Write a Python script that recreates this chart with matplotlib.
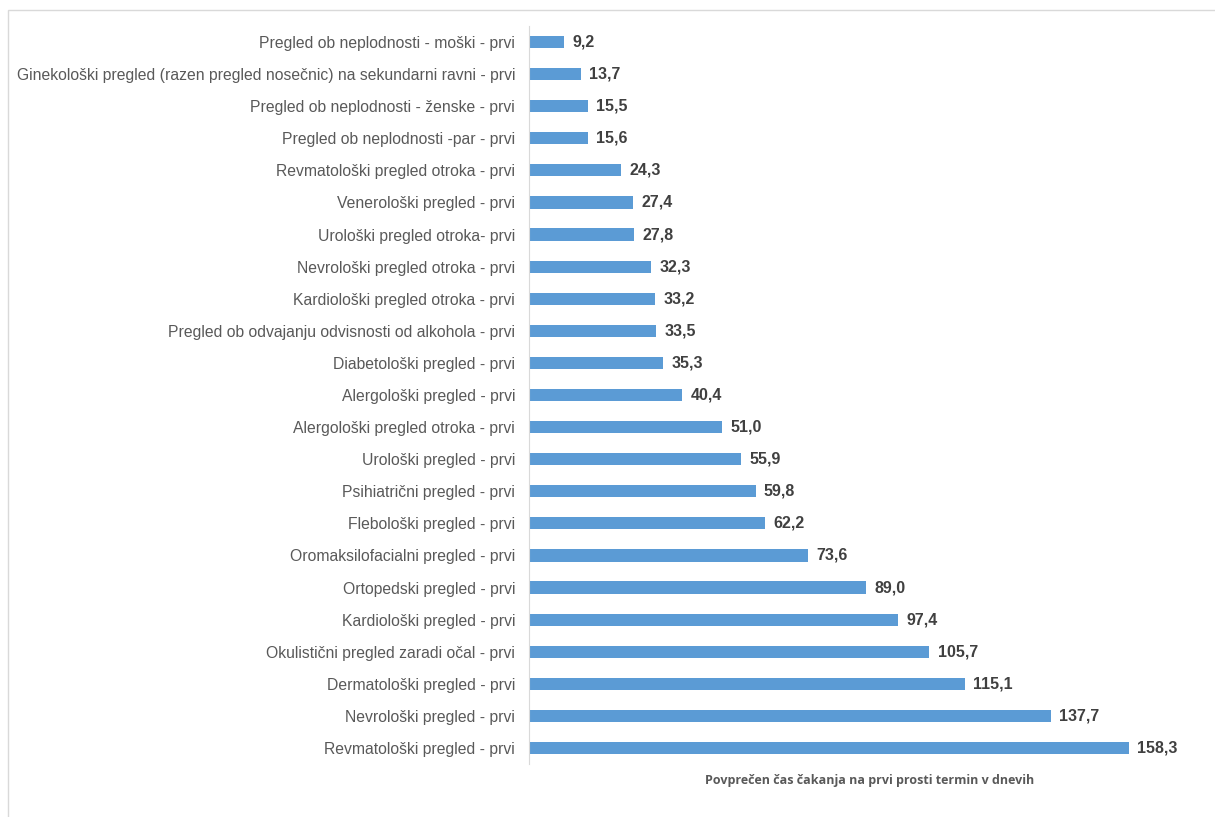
import matplotlib.pyplot as plt
from matplotlib.patches import Rectangle

# --- data (top to bottom) ---
categories = [
    'Pregled ob neplodnosti - moški - prvi',
    'Ginekološki pregled (razen pregled nosečnic) na sekundarni ravni - prvi',
    'Pregled ob neplodnosti - ženske - prvi',
    'Pregled ob neplodnosti -par - prvi',
    'Revmatološki pregled otroka - prvi',
    'Venerološki pregled - prvi',
    'Urološki pregled otroka- prvi',
    'Nevrološki pregled otroka - prvi',
    'Kardiološki pregled otroka - prvi',
    'Pregled ob odvajanju odvisnosti od alkohola - prvi',
    'Diabetološki pregled - prvi',
    'Alergološki pregled - prvi',
    'Alergološki pregled otroka - prvi',
    'Urološki pregled - prvi',
    'Psihiatrični pregled - prvi',
    'Flebološki pregled - prvi',
    'Oromaksilofacialni pregled - prvi',
    'Ortopedski pregled - prvi',
    'Kardiološki pregled - prvi',
    'Okulistični pregled zaradi očal - prvi',
    'Dermatološki pregled - prvi',
    'Nevrološki pregled - prvi',
    'Revmatološki pregled - prvi',
]
values = [9.2, 13.7, 15.5, 15.6, 24.3, 27.4, 27.8, 32.3, 33.2, 33.5, 35.3,
          40.4, 51.0, 55.9, 59.8, 62.2, 73.6, 89.0, 97.4, 105.7, 115.1,
          137.7, 158.3]
x_label = 'Povprečen čas čakanja na prvi prosti termin v dnevih'

BAR_COLOR = '#5B9BD5'
TEXT_COLOR = '#595959'

plt.rcParams['font.family'] = ['Liberation Sans', 'DejaVu Sans']

fig = plt.figure(figsize=(12.15, 8.17), dpi=100)
# light chart border like the office chart frame (bottom edge falls off the image)
fig.patches.append(Rectangle((8 / 1215, -0.05), 1.0, 1.05 - 10 / 817, transform=fig.transFigure,
                             fill=False, edgecolor='#D9D9D9', linewidth=1))

ax = fig.add_axes([529 / 1215, 53 / 817, 682 / 1215, 738 / 817])

positions = list(range(len(categories)))
ax.barh(positions, values, height=0.38, color=BAR_COLOR)

for pos, val in zip(positions, values):
    ax.text(val + 2.2, pos, f'{val:.1f}'.replace('.', ','), va='center', ha='left',
            fontsize=11.5, fontweight='bold', color='#404040')

ax.set_ylim(len(categories) - 0.5, -0.5)
ax.set_xlim(0, 180)
ax.set_yticks(positions)
ax.set_yticklabels(categories, fontsize=11.35, color=TEXT_COLOR)
ax.tick_params(axis='y', length=0, pad=10)
ax.set_xticks([])

for side in ['top', 'right', 'bottom']:
    ax.spines[side].set_visible(False)
ax.spines['left'].set_color('#D9D9D9')

ax.set_xlabel(x_label, fontsize=9, fontweight='bold', color=TEXT_COLOR,
              family=['Open Sans', 'DejaVu Sans'], labelpad=7)

fig.savefig('out.png', dpi=100)
